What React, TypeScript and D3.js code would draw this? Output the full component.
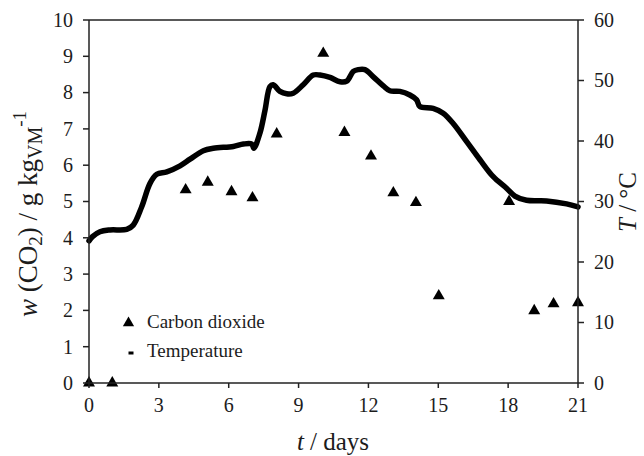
import React from "react";
import * as d3 from "d3";

const co2Days = [0, 1, 4.15, 5.1, 6.12, 7.02, 8.06, 10.06, 10.97, 12.11, 13.07, 14.04, 15.02, 18.04, 19.12, 19.95, 21.0];
const co2Values = [0, 0, 5.32, 5.53, 5.27, 5.1, 6.86, 9.08, 6.9, 6.25, 5.24, 4.97, 2.4, 5.0, 1.99, 2.18, 2.21];

const tempDays = [0, 0.15, 0.47, 0.9, 1.62, 1.9, 2.26, 2.62, 2.91, 3.34, 3.91, 4.34, 4.91, 5.34, 6.2, 6.63, 6.99, 7.08, 7.34, 7.56, 7.77, 7.91, 8.2, 8.49, 8.77, 9.2, 9.63, 9.92, 10.35, 10.78, 11.07, 11.35, 11.56, 11.85, 12.21, 12.64, 12.92, 13.35, 13.78, 14.07, 14.21, 14.78, 15.21, 15.64, 16.22, 16.79, 17.36, 17.93, 18.29, 18.79, 19.65, 20.51, 21.0];
const tempValues = [23.5, 24.2, 25.0, 25.3, 25.4, 26.1, 29.1, 33.0, 34.5, 34.9, 35.9, 37.0, 38.4, 38.8, 39.1, 39.5, 39.5, 38.8, 41.3, 45.1, 49.0, 49.3, 48.2, 47.8, 47.9, 49.3, 50.9, 50.9, 50.5, 49.8, 49.9, 51.5, 51.8, 51.8, 50.6, 49.1, 48.3, 48.2, 47.6, 46.8, 45.7, 45.4, 44.6, 42.9, 39.9, 36.9, 34.1, 32.2, 30.9, 30.2, 30.1, 29.6, 29.1];

const xTicks = [0, 3, 6, 9, 12, 15, 18, 21];
const leftTicks = [0, 1, 2, 3, 4, 5, 6, 7, 8, 9, 10];
const rightTicks = [0, 10, 20, 30, 40, 50, 60];

const legendLabels = ["Carbon dioxide", "Temperature"];

const W = 644, H = 456;
const L = 89, R = 578, T = 20, B = 383;
const FONT = "'Liberation Serif', 'Times New Roman', serif";
const INK = "#1c1c1c";

export default function App() {
  const x = d3.scaleLinear().domain([0, 21]).range([L, R]);
  const yL = d3.scaleLinear().domain([0, 10]).range([B, T]);
  const yR = d3.scaleLinear().domain([0, 60]).range([B, T]);

  const line = d3
    .line<number>()
    .x((_, i) => x(tempDays[i]))
    .y((d) => yR(d))
    .curve(d3.curveCatmullRom.alpha(0.5));

  const tri = d3.symbol().type(d3.symbolTriangle).size(62)();
  const triLegend = d3.symbol().type(d3.symbolTriangle).size(55)();

  return (
    <svg width={W} height={H} style={{ position: "absolute", left: 0, top: 0, background: "#fff" }} fontFamily={FONT}>
      <rect x={0} y={0} width={W} height={H} fill="#fff" />
      {/* temperature line */}
      <path d={line(tempValues) || ""} fill="none" stroke="#000" strokeWidth={5.5} strokeLinejoin="round" strokeLinecap="round" />
      {/* CO2 triangles */}
      {co2Values.map((v, i) => (
        <path key={i} d={tri} transform={`translate(${x(co2Days[i])},${yL(v)})`} fill="#000" />
      ))}
      {/* frame / axes */}
      <line x1={L} x2={R} y1={T} y2={T} stroke="#222" strokeWidth={1.5} />
      <line x1={L} x2={L} y1={T} y2={B} stroke="#222" strokeWidth={1.5} />
      <line x1={R} x2={R} y1={T} y2={B} stroke="#222" strokeWidth={1.5} />
      <line x1={L} x2={R} y1={B} y2={B} stroke="#222" strokeWidth={1.5} />
      {/* x ticks */}
      {xTicks.map((t) => (
        <g key={"x" + t}>
          <line x1={x(t)} x2={x(t)} y1={B} y2={B + 5} stroke="#222" strokeWidth={1.5} />
          <text x={x(t)} y={412} textAnchor="middle" fontSize={20} fill={INK}>{t}</text>
        </g>
      ))}
      {/* left ticks */}
      {leftTicks.map((t) => (
        <g key={"l" + t}>
          <line x1={L - 6} x2={L} y1={yL(t)} y2={yL(t)} stroke="#222" strokeWidth={1.5} />
          <text x={73} y={yL(t)} dy="0.34em" textAnchor="end" fontSize={20} fill={INK}>{t}</text>
        </g>
      ))}
      {/* right ticks */}
      {rightTicks.map((t) => (
        <g key={"r" + t}>
          <line x1={R} x2={R + 6} y1={yR(t)} y2={yR(t)} stroke="#222" strokeWidth={1.5} />
          <text x={594} y={yR(t)} dy="0.34em" textAnchor="start" fontSize={20} fill={INK}>{t}</text>
        </g>
      ))}
      {/* x title */}
      <text x={333} y={450} textAnchor="middle" fontSize={25} fill={INK}>
        <tspan fontStyle="italic">t</tspan> / days
      </text>
      {/* left title */}
      <text transform="translate(37,214) rotate(-90)" textAnchor="middle" fontSize={27} fill={INK}>
        <tspan fontStyle="italic">w</tspan> (CO<tspan fontSize={19} dy={5}>2</tspan><tspan dy={-5}>) / g kg</tspan>
        <tspan fontSize={20} dy={5}>VM</tspan><tspan fontSize={19} dy={-16}>-1</tspan>
      </text>
      {/* right title */}
      <text transform="translate(636,202) rotate(-90)" textAnchor="middle" fontSize={25} fill={INK}>
        <tspan fontStyle="italic">T</tspan> / °C
      </text>
      {/* legend */}
      <path d={triLegend} transform="translate(128.5,323)" fill="#000" />
      <text x={147} y={328} fontSize={19} fill={INK}>{legendLabels[0]}</text>
      <rect x={128.5} y={351.5} width={5} height={3} fill="#000" />
      <text x={147} y={357} fontSize={19} fill={INK}>{legendLabels[1]}</text>
    </svg>
  );
}
